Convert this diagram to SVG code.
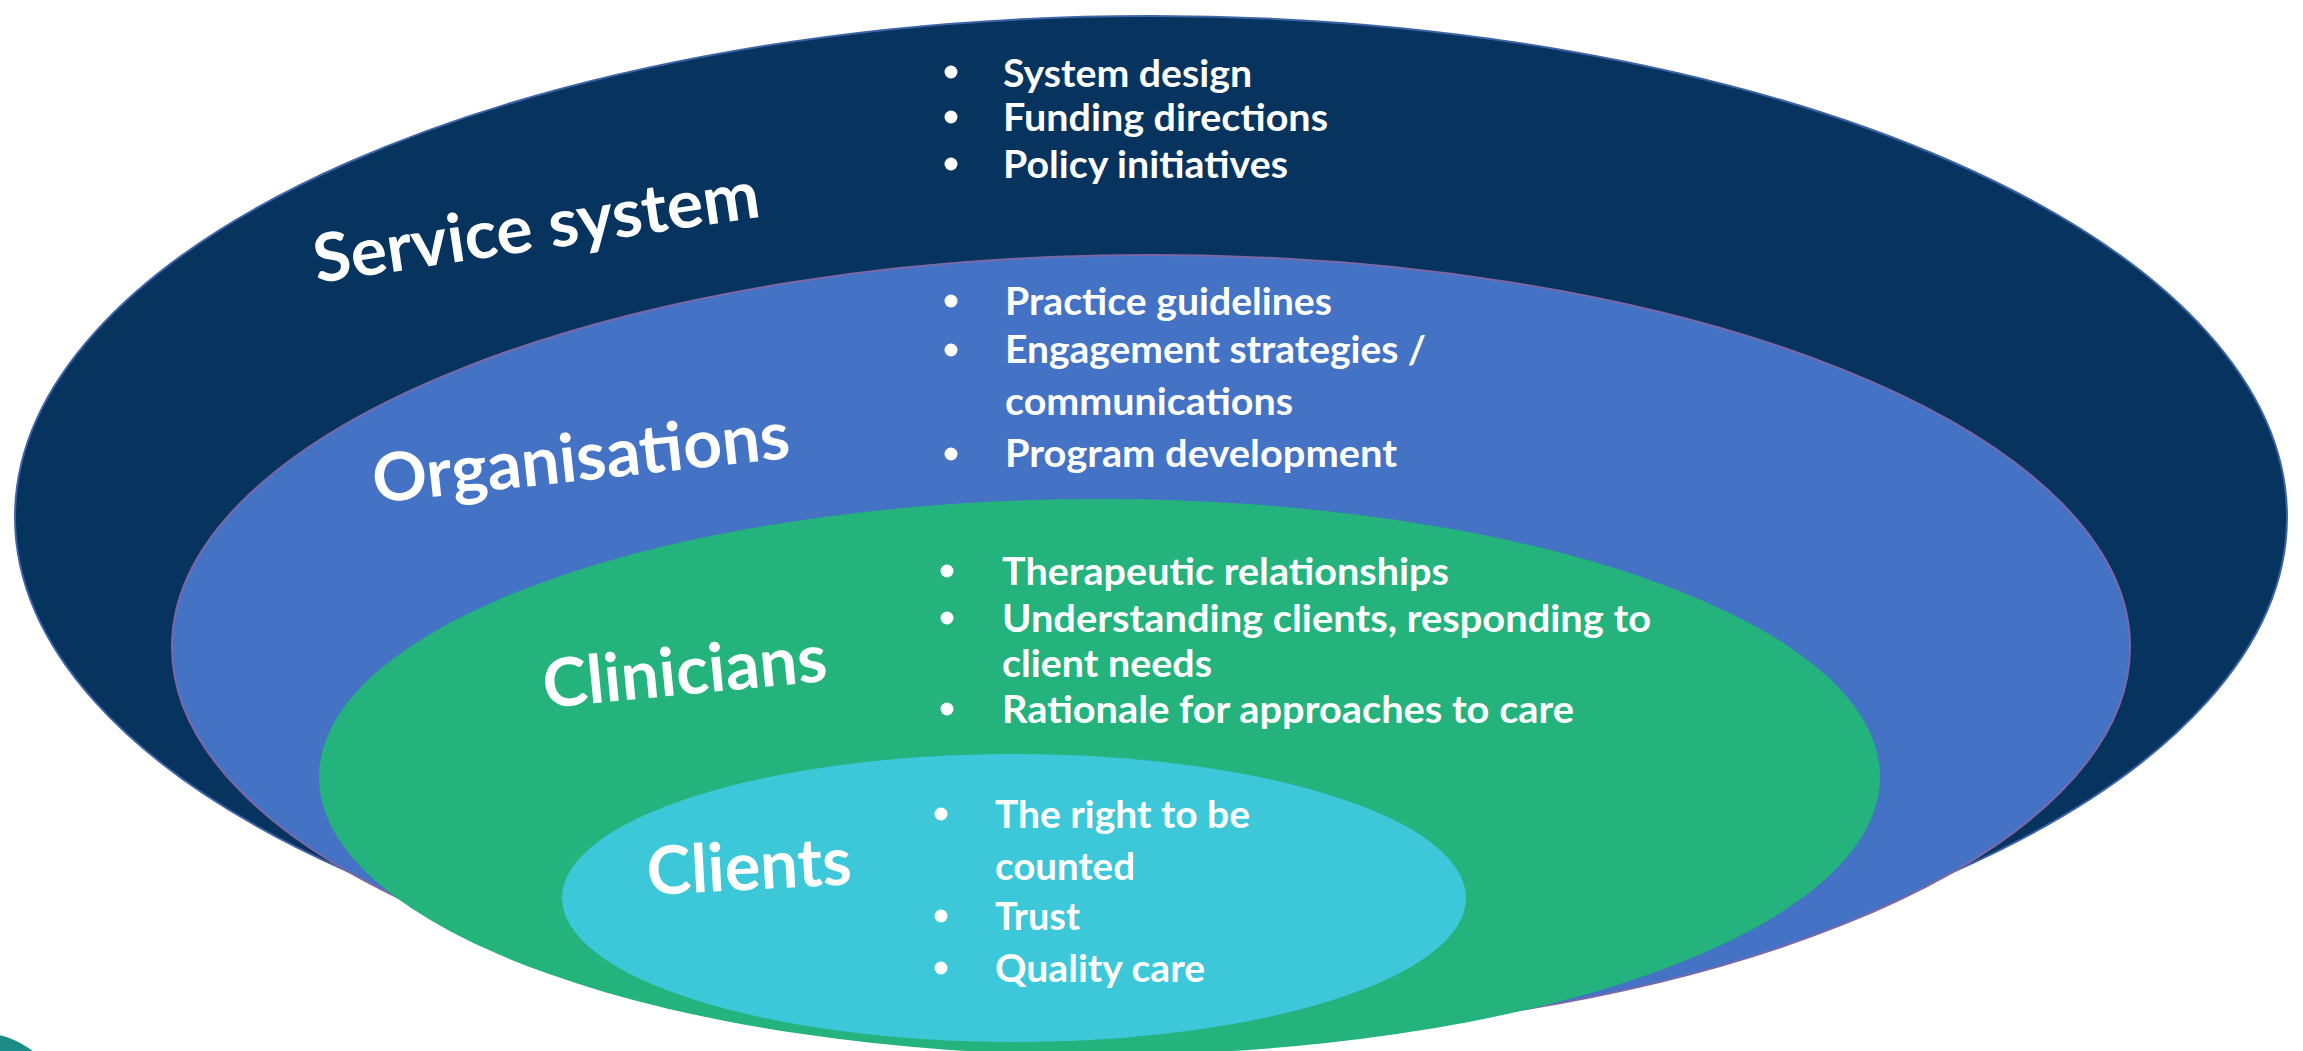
<svg xmlns="http://www.w3.org/2000/svg" width="2303" height="1051" viewBox="0 0 2303 1051">
<style>
.t{font-family:Lato,"Open Sans","Liberation Sans",sans-serif;font-weight:700;fill:#ffffff}
.title{font-size:67px}
.body{font-size:38.5px}
.b{fill:#ffffff}
</style>
<rect width="2303" height="1051" fill="#ffffff"/>
<circle cx="-20" cy="1119" r="86" fill="#1d8c88"/>
<g id="service-system">
<ellipse cx="1151" cy="517" rx="1136" ry="501" fill="#06345e" stroke="#3d63a8" stroke-width="2"/>
<text class="t title" transform="translate(317,283) rotate(-8.5)" textLength="450" lengthAdjust="spacingAndGlyphs">Service system</text>
<circle class="b" cx="951" cy="72" r="6.5"/><text class="t body" x="1003" y="87" textLength="249" lengthAdjust="spacingAndGlyphs">System design</text>
<circle class="b" cx="951" cy="117" r="6.5"/><text class="t body" x="1003" y="131" textLength="325" lengthAdjust="spacingAndGlyphs">Funding directions</text>
<circle class="b" cx="951" cy="164" r="6.5"/><text class="t body" x="1003" y="178" textLength="285" lengthAdjust="spacingAndGlyphs">Policy initiatives</text>
</g>
<g id="organisations">
<ellipse cx="1151" cy="647" rx="979" ry="392" fill="#4472c4" stroke="#7c68a8" stroke-width="2"/>
<text class="t title" transform="translate(375,503) rotate(-6.2)" textLength="419" lengthAdjust="spacingAndGlyphs">Organisations</text>
<circle class="b" cx="951" cy="301" r="6.5"/><text class="t body" x="1005" y="315" textLength="327" lengthAdjust="spacingAndGlyphs">Practice guidelines</text>
<circle class="b" cx="951" cy="350" r="6.5"/><text class="t body" x="1005" y="363" textLength="421" lengthAdjust="spacingAndGlyphs">Engagement strategies /</text>
<text class="t body" x="1005" y="415" textLength="288" lengthAdjust="spacingAndGlyphs">communications</text>
<circle class="b" cx="951" cy="454" r="6.5"/><text class="t body" x="1005" y="467" textLength="392" lengthAdjust="spacingAndGlyphs">Program development</text>
</g>
<g id="clinicians">
<ellipse cx="1099.5" cy="777" rx="780.5" ry="278" fill="#24b27d"/>
<text class="t title" transform="translate(545,708) rotate(-5.5)" textLength="285" lengthAdjust="spacingAndGlyphs">Clinicians</text>
<circle class="b" cx="947" cy="571" r="6.5"/><text class="t body" x="1002" y="585" textLength="447" lengthAdjust="spacingAndGlyphs">Therapeutic relationships</text>
<circle class="b" cx="947" cy="618" r="6.5"/><text class="t body" x="1002" y="632" textLength="649" lengthAdjust="spacingAndGlyphs">Understanding clients, responding to</text>
<text class="t body" x="1002" y="677" textLength="210" lengthAdjust="spacingAndGlyphs">client needs</text>
<circle class="b" cx="947" cy="709" r="6.5"/><text class="t body" x="1002" y="723" textLength="572" lengthAdjust="spacingAndGlyphs">Rationale for approaches to care</text>
</g>
<g id="clients">
<ellipse cx="1014" cy="898" rx="452" ry="144" fill="#3cc8d8"/>
<text class="t title" transform="translate(648,895) rotate(-3)" textLength="205" lengthAdjust="spacingAndGlyphs">Clients</text>
<circle class="b" cx="941" cy="814" r="6.5"/><text class="t body" x="995" y="828" textLength="255" lengthAdjust="spacingAndGlyphs">The right to be</text>
<text class="t body" x="995" y="880" textLength="140" lengthAdjust="spacingAndGlyphs">counted</text>
<circle class="b" cx="941" cy="916" r="6.5"/><text class="t body" x="995" y="930" textLength="85" lengthAdjust="spacingAndGlyphs">Trust</text>
<circle class="b" cx="941" cy="968" r="6.5"/><text class="t body" x="995" y="982" textLength="210" lengthAdjust="spacingAndGlyphs">Quality care</text>
</g>
<g id="connectors"/>
</svg>
